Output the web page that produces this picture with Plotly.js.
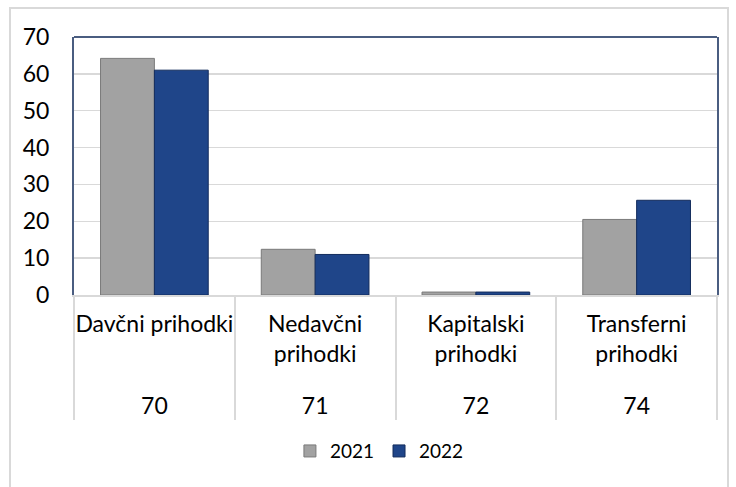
<!DOCTYPE html>
<html>
<head>
<meta charset="utf-8">
<script src="https://cdn.plot.ly/plotly-3.0.1.min.js"></script>
<style>
  html, body { margin: 0; padding: 0; background: #ffffff; }
  #frame { position: absolute; left: 9px; top: 7px; width: 720px; height: 500px; border: 2px solid #D9D9D9; box-sizing: border-box; }
  #chart { position: absolute; left: 0; top: 0; width: 736px; height: 487px; }
</style>
</head>
<body>
<div id="frame"></div>
<div id="chart"></div>
<script>
const codes = ["70", "71", "72", "74"];
const categories = ["Davčni prihodki<br> ", "Nedavčni<br>prihodki<br> ", "Kapitalski<br>prihodki<br> ", "Transferni<br>prihodki<br> "];
const seriesNames = ["2021", "2022"];
const values2021 = [64.2, 12.4, 0.8, 20.5];
const values2022 = [61.0, 11.0, 0.8, 25.7];
const yTicks = [0, 10, 20, 30, 40, 50, 60, 70];

const FONT = "Lato, 'Noto Sans', sans-serif";
const FS = 23;

const traces = [
  {
    type: "bar",
    name: seriesNames[0],
    x: [codes, categories],
    y: values2021,
    marker: { color: "#A2A2A2", line: { color: "#7A7A7A", width: 1 } },
    hoverinfo: "skip"
  },
  {
    type: "bar",
    name: seriesNames[1],
    x: [codes, categories],
    y: values2022,
    marker: { color: "#1F4589", line: { color: "#132C5C", width: 1 } },
    hoverinfo: "skip"
  }
];

const layout = {
  width: 736,
  height: 487,
  paper_bgcolor: "rgba(0,0,0,0)",
  plot_bgcolor: "#ffffff",
  margin: { l: 74, r: 19, t: 37, b: 192 },
  barmode: "group",
  bargap: 0.33,
  bargroupgap: 0,
  font: { family: FONT, size: FS, color: "#000000" },
  xaxis: {
    type: "multicategory",
    showline: true,
    linecolor: "#D9D9D9",
    linewidth: 2,
    showgrid: false,
    showdividers: true,
    dividercolor: "#D9D9D9",
    dividerwidth: 2,
    tickangle: 0,
    ticklabelstandoff: 7,
    tickfont: { family: FONT, size: FS, color: "#000000" },
    fixedrange: true
  },
  yaxis: {
    range: [0, 70],
    tickvals: yTicks,
    ticktext: yTicks.map(String),
    showgrid: true,
    gridcolor: "#D9D9D9",
    gridwidth: 1.5,
    showline: true,
    mirror: true,
    linecolor: "#4A5D80",
    linewidth: 2,
    zeroline: false,
    ticks: "",
    ticklabelstandoff: 18,
    tickfont: { family: FONT, size: FS, color: "#000000" },
    fixedrange: true
  },
  shapes: [
    { type: "line", xref: "paper", yref: "paper", x0: 0, x1: 1, y0: 1, y1: 1, line: { color: "#4A5D80", width: 2 } }
  ],
  showlegend: true,
  legend: {
    orientation: "h",
    x: 0.475,
    xanchor: "center",
    y: -0.605,
    yanchor: "middle",
    font: { family: FONT, size: 19, color: "#000000" },
    itemwidth: 30,
    traceorder: "normal"
  }
};

Plotly.newPlot("chart", traces, layout, { staticPlot: true, displayModeBar: false });
</script>
</body>
</html>
